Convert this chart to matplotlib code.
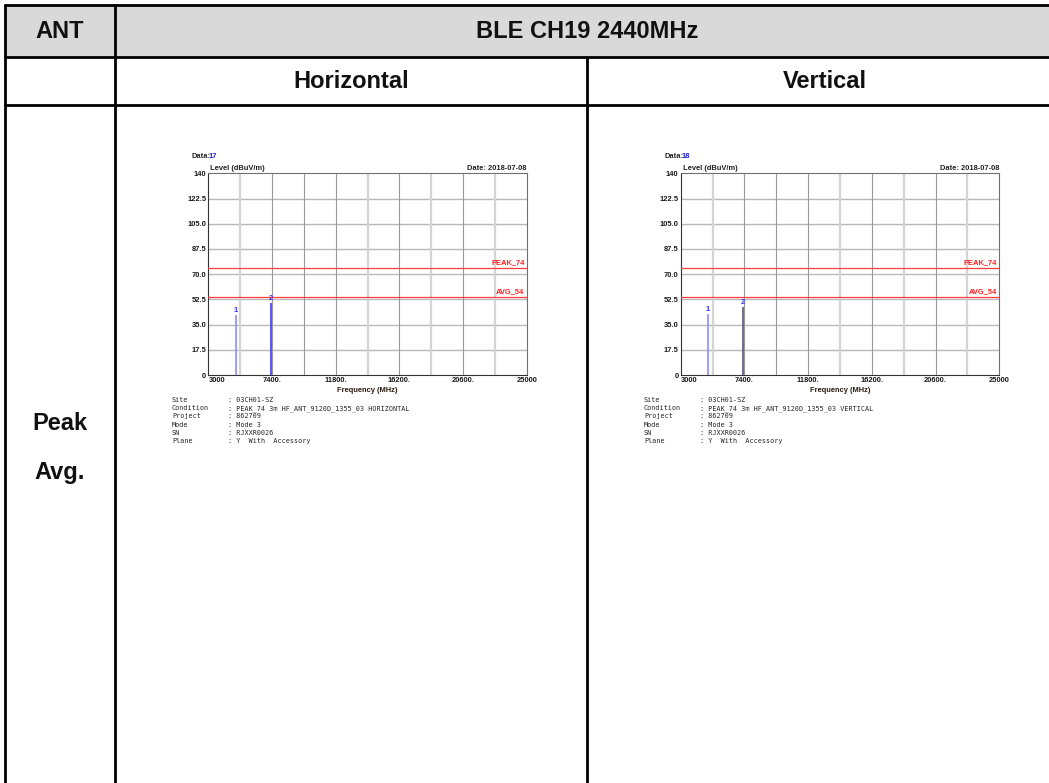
import matplotlib
matplotlib.use("Agg")
import matplotlib.pyplot as plt

W, H = 1049, 783

# table text
col_head = "ANT"
band_title = "BLE CH19 2440MHz"
pol_titles = ["Horizontal", "Vertical"]
row_labels = ["Peak", "Avg."]

# spectrum chart data
freq_ticks = [3000, 7400, 11800, 16200, 20600, 25000]
freq_tick_labels = ["3000", "7400.", "11800.", "16200.", "20600.", "25000"]
level_ticks = [0, 17.5, 35.0, 52.5, 70.0, 87.5, 105.0, 122.5, 140]
level_tick_labels = ["0", "17.5", "35.0", "52.5", "70.0", "87.5", "105.0", "122.5", "140"]
grid_freqs = [5200, 7400, 9600, 11800, 14000, 16200, 18400, 20600, 22800]
light_grid = [5200, 14000, 18400, 22800]
limit_values = [74, 54]
limit_names = ["PEAK_74", "AVG_54"]

marker_freqs = [4880, 7320]
h_levels = [41.6, 49.8]
v_levels = [42.1, 47.0]
data_ids = ["17", "18"]
scan_date = "2018-07-08"

info_keys = ["Site", "Condition", "Project", "Mode", "SN", "Plane"]
info_h = ["03CH01-SZ", "PEAK_74 3m HF_ANT_9120D_1355_03 HORIZONTAL", "862709",
          "Mode 3", "RJXXR0026", "Y  With  Accessory"]
info_v = ["03CH01-SZ", "PEAK_74 3m HF_ANT_9120D_1355_03 VERTICAL", "862709",
          "Mode 3", "RJXXR0026", "Y  With  Accessory"]


def box(x0, y0, x1, y1):
    return [x0 / W, 1 - y1 / H, (x1 - x0) / W, (y1 - y0) / H]


fig = plt.figure(figsize=(W / 100, H / 100), dpi=100)
fig.patch.set_facecolor("white")

# page layer in pixel units for the table
bg = fig.add_axes([0, 0, 1, 1])
bg.set_xlim(0, W)
bg.set_ylim(H, 0)
bg.axis("off")

bg.fill_between([5, W], 5, 57, color="#d9d9d9", zorder=0)
lk = dict(color="black", lw=2, solid_capstyle="butt", zorder=2)
bg.plot([4, W], [5, 5], **lk)
bg.plot([4, W], [57, 57], **lk)
bg.plot([4, W], [105, 105], **lk)
bg.plot([5, 5], [4, H], **lk)
bg.plot([115, 115], [4, H], **lk)
bg.plot([586.5, 586.5], [57, H], **lk)

hk = dict(fontsize=17, fontweight="bold", family="Liberation Sans",
          ha="center", va="center", color="#111111")
bg.text(60, 31, col_head, **hk)
bg.text(587, 31, band_title, **hk)
bg.text(351, 81, pol_titles[0], **hk)
bg.text(825, 81, pol_titles[1], **hk)
bg.text(60, 423, row_labels[0], **hk)
bg.text(60, 472, row_labels[1], **hk)


def draw_chart(rect, levels, data_id, info_vals, info_x, colon_x, mark_colors):
    ax = fig.add_axes(box(*rect))
    ax.set_xlim(3000, 25000)
    ax.set_ylim(0, 140)
    fk = dict(family="Liberation Sans", fontweight="bold", fontsize=5.4)

    for y in level_ticks[1:-1]:
        ax.axhline(y, color="#b8b8b8", lw=1.0, zorder=1)
    for f in grid_freqs:
        if f in light_grid:
            ax.axvline(f, color="#d4d4d4", lw=1.6, zorder=1)
        else:
            ax.axvline(f, color="#9a9a9a", lw=0.8, zorder=1)

    for v, name in zip(limit_values, limit_names):
        ax.axhline(v, color="#ff3b3b", lw=0.9, zorder=3)
        ax.text(24850, v + 1.5, name, color="#ff2020", ha="right", va="bottom", **fk)

    for i, (f, lv) in enumerate(zip(marker_freqs, levels)):
        ax.vlines(f, 0, lv, color=mark_colors[i], lw=1.2, zorder=4)
        ax.text(f, lv + 1.0, str(i + 1), color="#3030ff", ha="center", va="bottom", **fk)

    ax.set_xticks(freq_ticks)
    ax.set_xticklabels(freq_tick_labels, **fk)
    ax.get_xticklabels()[0].set_ha("left")
    ax.set_yticks(level_ticks)
    ax.set_yticklabels(level_tick_labels, **fk)
    ax.tick_params(length=0, pad=1.5, colors="#1a1a1a")
    for s in ax.spines.values():
        s.set_color("#707070")
        s.set_linewidth(0.8)
    ax.spines["bottom"].set_color("#333333")
    ax.spines["left"].set_color("#333333")

    ax.text(0.0, 1.005, " Level (dBuV/m)", transform=ax.transAxes,
            ha="left", va="bottom", color="#222222", **fk)
    ax.text(1.0, 1.005, "Date: " + scan_date, transform=ax.transAxes,
            ha="right", va="bottom", color="#222222", **fk)
    ax.text(0.5, -0.06, "Frequency (MHz)", transform=ax.transAxes,
            ha="center", va="top", color="#2a1a10", **fk)

    x0 = rect[0]
    bg.text(x0 - 16.5, 157, "Data:", ha="left", va="center", color="#222222", **fk)
    bg.text(x0 + 0.5, 157, data_id, ha="left", va="center", color="#2020d0", **fk)

    mk = dict(family="DejaVu Sans Mono", fontsize=4.9, color="#262626",
              ha="left", va="center")
    for j, (k, val) in enumerate(zip(info_keys, info_vals)):
        yy = 400 + j * 8.2
        bg.text(info_x, yy, k, **mk)
        bg.text(colon_x, yy, ": " + val, **mk)
    return ax


draw_chart((208.3, 173.3, 526.7, 375), h_levels, data_ids[0], info_h,
           172, 228, ["#8c8cff", "#3a3aff"])
draw_chart((680.7, 173.3, 999.3, 375), v_levels, data_ids[1], info_v,
           644, 700, ["#8c8cff", "#55557a"])

fig.savefig("out.png", dpi=100, facecolor="white")
